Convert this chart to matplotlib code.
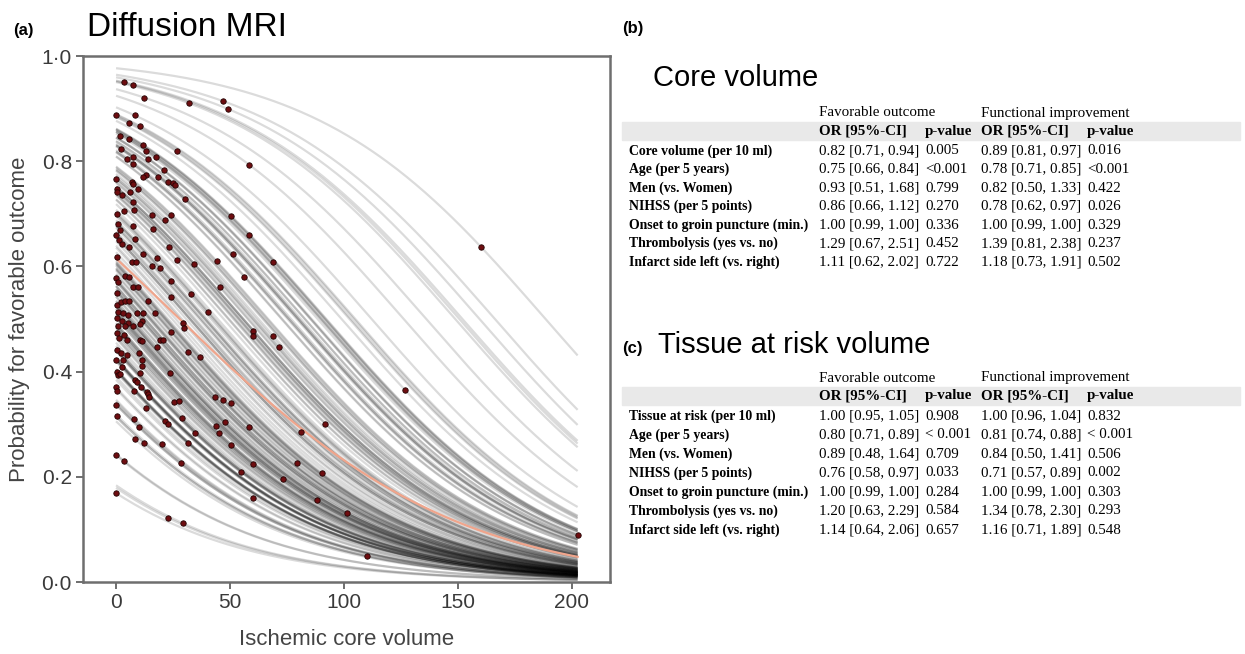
import numpy as np
import matplotlib.pyplot as plt

# ---- panel (a): patients (ischemic core volume, predicted probability) ----
core_vol = [3.6, 7.3, 12.3, 32.2, 47.1, 49.3, 0.0, 8.3, 5.7, 10.5, 1.8, 5.8, 2.0, 12.0, 13.2,
            4.7, 7.6, 14.2, 17.5, 26.6, 58.5, 7.5, 21.1, 13.2, 12.0, 18.3, 0.0, 0.2, 7.0, 7.5,
            9.5, 22.7, 25.1, 26.0, 0.6, 2.5, 6.1, 30.3, 7.5, 8.0, 0.6, 3.3, 15.9, 24.1, 50.4,
            21.6, 0.7, 1.8, 7.5, 16.0, 58.2, 0.0, 1.2, 8.2, 2.7, 5.8, 23.1, 0.3, 11.7, 17.8,
            51.5, 26.6, 6.8, 8.6, 44.2, 69.0, 34.2, 15.8, 19.3, 0.0, 4.1, 5.5, 56.3, 1.0, 7.5,
            9.7, 24.3, 45.6, 0.3, 32.8, 24.1,
            0.2, 2.1, 3.8, 5.8, 14.2, 1.0, 3.2, 5.4, 9.4, 12.0, 17.1, 40.2, 0.2, 2.5, 5.4,
            11.3, 1.0, 3.8, 7.6, 10.5, 24.1, 29.5, 29.8, 60.2, 60.2, 69.0, 71.3, 0.2, 1.4, 3.5,
            4.7, 10.5, 11.5, 19.3, 20.5, 17.8, 31.4, 36.8, 0.2, 2.0, 4.7, 10.0, 0.0, 3.2, 2.5,
            11.4, 11.4, 0.6, 1.0, 1.8, 10.5, 23.8, 8.5, 9.4, 11.0, 0.0, 0.6, 7.9, 13.4, 14.2,
            14.6, 43.6, 47.1, 50.3, 25.6, 27.8, 0.0, 13.2, 0.6, 28.9, 7.9, 21.6, 22.9, 91.7, 10.1,
            44.0, 47.6, 58.5, 34.5, 45.0, 81.1, 8.5, 12.3, 31.4, 20.2, 50.3, 0.0, 3.6, 28.3, 60.2,
            79.5, 90.2, 54.8, 73.1, 60.2, 88.0, 0.0, 22.7, 29.2,
            126.8, 101.2, 110.2, 202.5, 160.1]
prob = [0.950, 0.945, 0.921, 0.910, 0.914, 0.899, 0.888, 0.887, 0.872, 0.867, 0.848, 0.842, 0.824, 0.831, 0.820,
        0.804, 0.808, 0.804, 0.808, 0.820, 0.793, 0.795, 0.783, 0.774, 0.770, 0.770, 0.767, 0.748, 0.761, 0.757,
        0.748, 0.761, 0.759, 0.755, 0.742, 0.736, 0.742, 0.729, 0.723, 0.707, 0.700, 0.705, 0.698, 0.698, 0.695,
        0.688, 0.680, 0.669, 0.676, 0.671, 0.660, 0.660, 0.650, 0.652, 0.643, 0.637, 0.637, 0.618, 0.624, 0.616,
        0.623, 0.612, 0.608, 0.608, 0.610, 0.608, 0.605, 0.601, 0.597, 0.577, 0.582, 0.579, 0.580, 0.571, 0.561,
        0.560, 0.572, 0.560, 0.549, 0.548, 0.541,
        0.527, 0.532, 0.535, 0.535, 0.535, 0.514, 0.511, 0.507, 0.511, 0.512, 0.512, 0.514, 0.501, 0.497, 0.493,
        0.497, 0.487, 0.487, 0.487, 0.491, 0.476, 0.493, 0.482, 0.478, 0.468, 0.468, 0.446, 0.473, 0.463, 0.469,
        0.460, 0.461, 0.459, 0.461, 0.461, 0.447, 0.438, 0.428, 0.441, 0.435, 0.432, 0.435, 0.422, 0.423, 0.409,
        0.422, 0.410, 0.400, 0.394, 0.396, 0.398, 0.398, 0.384, 0.381, 0.371, 0.370, 0.364, 0.364, 0.362, 0.357,
        0.351, 0.351, 0.346, 0.341, 0.342, 0.345, 0.337, 0.330, 0.316, 0.311, 0.309, 0.307, 0.300, 0.301, 0.294,
        0.296, 0.304, 0.295, 0.284, 0.284, 0.285, 0.271, 0.264, 0.265, 0.262, 0.261, 0.241, 0.230, 0.227, 0.224,
        0.226, 0.208, 0.210, 0.195, 0.159, 0.155, 0.169, 0.122, 0.112,
        0.365, 0.131, 0.049, 0.089, 0.637]

core_or = 0.82      # odds ratio per 10 ml (table b)
vol_max = 202.5

# ---- tables (b) and (c) ----
col_heads = ['Favorable outcome', 'Functional improvement']
sub_heads = ['OR [95%-CI]', 'p-value', 'OR [95%-CI]', 'p-value']

rows_b = ['Core volume (per 10 ml)', 'Age (per 5 years)', 'Men (vs. Women)', 'NIHSS (per 5 points)',
          'Onset to groin puncture (min.)', 'Thrombolysis (yes vs. no)', 'Infarct side left (vs. right)']
fav_or_b = ['0.82 [0.71, 0.94]', '0.75 [0.66, 0.84]', '0.93 [0.51, 1.68]', '0.86 [0.66, 1.12]',
            '1.00 [0.99, 1.00]', '1.29 [0.67, 2.51]', '1.11 [0.62, 2.02]']
fav_p_b = ['0.005', '<0.001', '0.799', '0.270', '0.336', '0.452', '0.722']
imp_or_b = ['0.89 [0.81, 0.97]', '0.78 [0.71, 0.85]', '0.82 [0.50, 1.33]', '0.78 [0.62, 0.97]',
            '1.00 [0.99, 1.00]', '1.39 [0.81, 2.38]', '1.18 [0.73, 1.91]']
imp_p_b = ['0.016', '<0.001', '0.422', '0.026', '0.329', '0.237', '0.502']

rows_c = ['Tissue at risk (per 10 ml)', 'Age (per 5 years)', 'Men (vs. Women)', 'NIHSS (per 5 points)',
          'Onset to groin puncture (min.)', 'Thrombolysis (yes vs. no)', 'Infarct side left (vs. right)']
fav_or_c = ['1.00 [0.95, 1.05]', '0.80 [0.71, 0.89]', '0.89 [0.48, 1.64]', '0.76 [0.58, 0.97]',
            '1.00 [0.99, 1.00]', '1.20 [0.63, 2.29]', '1.14 [0.64, 2.06]']
fav_p_c = ['0.908', '< 0.001', '0.709', '0.033', '0.284', '0.584', '0.657']
imp_or_c = ['1.00 [0.96, 1.04]', '0.81 [0.74, 0.88]', '0.84 [0.50, 1.41]', '0.71 [0.57, 0.89]',
            '1.00 [0.99, 1.00]', '1.34 [0.78, 2.30]', '1.16 [0.71, 1.89]']
imp_p_c = ['0.832', '< 0.001', '0.506', '0.002', '0.303', '0.293', '0.548']

W, H = 1245, 654
fig = plt.figure(figsize=(W / 100, H / 100), dpi=100)


def fx(x):
    return x / W


def fy(y):
    return 1 - y / H


sans = 'Liberation Sans'
serif = 'Liberation Serif'

# ---- panel (a) ----
ax = fig.add_axes([fx(83), fy(582), fx(610 - 83), (582 - 56) / H])
x = np.array(core_vol)
p = np.array(prob)
b = np.log(core_or) / 10
a = np.log(p / (1 - p)) - b * x
grid = np.linspace(0, vol_max, 300)
curves = 1 / (1 + np.exp(-(a[:, None] + b * grid[None, :])))
for c in curves:
    ax.plot(grid, c, color='black', alpha=0.14, lw=1.6, solid_capstyle='butt')
ax.plot(grid, curves.mean(axis=0), color='#f0a58c', lw=1.6)
ax.plot(x, p, 'o', ms=3.9, mfc='#6e0d10', mec='#220303', mew=0.6, ls='none')

ax.set_xlim(-14.5, 216.7)
ax.set_ylim(0, 1)
ax.set_xticks([0, 50, 100, 150, 200])
yt = [0, 0.2, 0.4, 0.6, 0.8, 1.0]
ax.set_yticks(yt)
ax.set_yticklabels([f'{v:.1f}'.replace('.', '\u00b7') for v in yt])
for s in ax.spines.values():
    s.set_color('#6e6e6e')
    s.set_linewidth(1.8)
ax.tick_params(direction='out', length=5, width=1.4, color='#6e6e6e', labelcolor='#3a3a3a',
               labelsize=15, pad=3)
for lab in ax.get_xticklabels() + ax.get_yticklabels():
    lab.set_family(sans)
ax.set_xlabel('Ischemic core volume', fontsize=16, color='#444444', family=sans, labelpad=12)
ax.set_ylabel('Probability for favorable outcome', fontsize=16, color='#444444', family=sans, labelpad=8)

fig.text(fx(13), fy(30), '(a)', fontsize=12, fontweight='bold', family=sans, va='center')
fig.text(fx(87), fy(28), 'Diffusion MRI', fontsize=24, family=sans, va='center')
fig.text(fx(622), fy(28), '(b)', fontsize=12, fontweight='bold', family=sans, va='center')
fig.text(fx(653), fy(78), 'Core volume', fontsize=21, family=sans, va='center')
fig.text(fx(622), fy(349), '(c)', fontsize=12, fontweight='bold', family=sans, va='center')
fig.text(fx(658), fy(345), 'Tissue at risk volume', fontsize=21, family=sans, va='center')


def draw_table(y_head, y_band, y_row0, step, labels, c1, c2, c3, c4):
    fs = 10.8
    fig.patches.append(plt.Rectangle((fx(622), fy(y_band + 18)), fx(1240 - 622), 18 / H,
                                     transform=fig.transFigure, color='#e9e9e9', zorder=0))
    fig.text(fx(819), fy(y_head), col_heads[0], fontsize=fs, family=serif, va='center')
    fig.text(fx(981), fy(y_head), col_heads[1], fontsize=fs, family=serif, va='center')
    for xx, t in zip([819, 925, 981, 1087], sub_heads):
        fig.text(fx(xx), fy(y_band + 9), t, fontsize=fs, family=serif, fontweight='bold', va='center')
    for i, lab in enumerate(labels):
        yy = fy(y_row0 + i * step)
        fig.text(fx(629), yy, lab, fontsize=9.9, family=serif, fontweight='bold', va='center')
        fig.text(fx(819), yy, c1[i], fontsize=fs, family=serif, va='center')
        fig.text(fx(925), yy, c2[i], fontsize=fs, family=serif, va='center')
        fig.text(fx(981), yy, c3[i], fontsize=fs, family=serif, va='center')
        fig.text(fx(1087), yy, c4[i], fontsize=fs, family=serif, va='center')


draw_table(113, 122, 151, 18.5, rows_b, fav_or_b, fav_p_b, imp_or_b, imp_p_b)
draw_table(378, 387, 416, 19.0, rows_c, fav_or_c, fav_p_c, imp_or_c, imp_p_c)

fig.savefig('out.png', dpi=100)
